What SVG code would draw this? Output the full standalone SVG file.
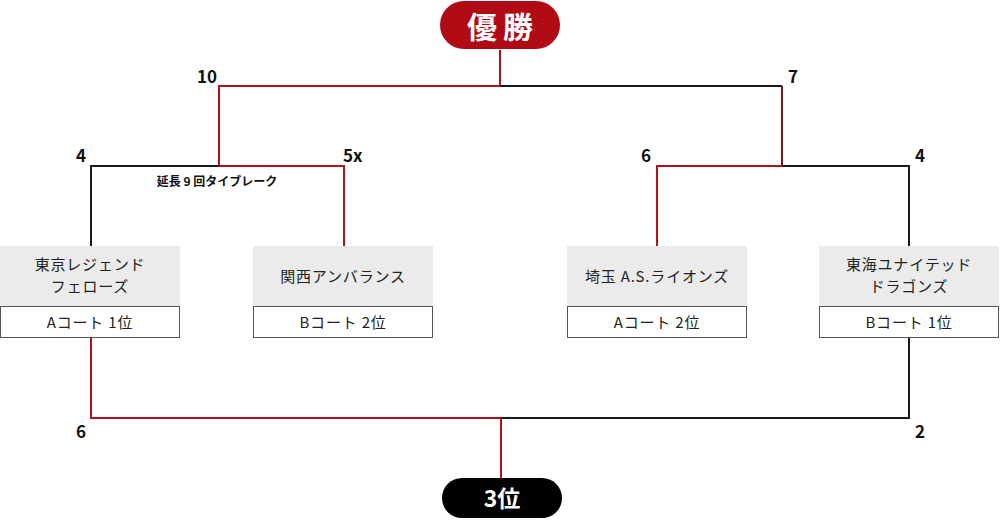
<svg xmlns="http://www.w3.org/2000/svg" width="1000" height="532" viewBox="0 0 1000 532">
<style>
.red{stroke:#b3101b;stroke-width:2;fill:none}
.blk{stroke:#1a1a1a;stroke-width:2;fill:none}
.mar{stroke:#7a1414;stroke-width:2;fill:none}
.score{font-family:"Noto Sans CJK JP","Liberation Sans",sans-serif;font-weight:700;font-size:17px;fill:#111}
.team{font-family:"Noto Sans CJK JP","Liberation Sans",sans-serif;font-size:15px;letter-spacing:0.8px;fill:#222;text-anchor:middle}
.gray{fill:#ebebeb}
.rank{fill:#fff;stroke:#555;stroke-width:1}
.note{font-family:"Noto Sans CJK JP","Liberation Sans",sans-serif;font-weight:700;font-size:12px;fill:#111;text-anchor:middle}
</style>
<g id="connectors">
<polyline class="red" points="500,50 500,86 219,86 219,166 344,166 344,246"/>
<polyline class="blk" points="500,86 782,86"/>
<polyline class="mar" points="782,86 782,166"/>
<polyline class="blk" points="219,166 91,166 91,246"/>
<polyline class="red" points="782,166 657,166 657,246"/>
<polyline class="blk" points="782,166 909,166 909,246"/>
<polyline class="red" points="91,338 91,418 501,418 501,478"/>
<polyline class="blk" points="501,418 909,418 909,338"/>
</g>
<g id="scores">
<text class="score" x="217" y="83" text-anchor="end">10</text>
<text class="score" x="788" y="83">7</text>
<text class="score" x="86" y="162" text-anchor="end">4</text>
<text class="score" x="343" y="162">5x</text>
<text class="score" x="651" y="162" text-anchor="end">6</text>
<text class="score" x="915" y="162">4</text>
<text class="score" x="86" y="438" text-anchor="end">6</text>
<text class="score" x="915" y="438">2</text>
<text class="note" x="217" y="186">延長 9 回タイブレーク</text>
</g>
<g id="champion">
<rect x="440" y="1" width="120" height="48" rx="24" fill="#b00a14"/>
<text x="503" y="38" text-anchor="middle" font-family="'Noto Sans CJK JP',sans-serif" font-weight="700" font-size="30" letter-spacing="6" fill="#fff">優勝</text>
</g>
<g id="third">
<rect x="442" y="478" width="120" height="40" rx="20" fill="#000"/>
<text x="502" y="507" text-anchor="middle" font-family="'Noto Sans CJK JP',sans-serif" font-weight="700" font-size="23" fill="#fff">3位</text>
</g>
<g id="team-tokyo">
<rect class="gray" x="0" y="246" width="180" height="60"/>
<text class="team" x="90" y="270">東京レジェンド</text>
<text class="team" x="90" y="292">フェローズ</text>
<rect class="rank" x="0.5" y="306.5" width="179" height="31"/>
<text class="team" x="90" y="328">Aコート 1位</text>
</g>
<g id="team-kansai">
<rect class="gray" x="253" y="246" width="180" height="60"/>
<text class="team" x="343" y="282">関西アンバランス</text>
<rect class="rank" x="253.5" y="306.5" width="179" height="31"/>
<text class="team" x="343" y="328">Bコート 2位</text>
</g>
<g id="team-saitama">
<rect class="gray" x="567" y="246" width="180" height="60"/>
<text class="team" x="657" y="282">埼玉 A.S.ライオンズ</text>
<rect class="rank" x="567.5" y="306.5" width="179" height="31"/>
<text class="team" x="657" y="328">Aコート 2位</text>
</g>
<g id="team-tokai">
<rect class="gray" x="819" y="246" width="180" height="60"/>
<text class="team" x="909" y="270">東海ユナイテッド</text>
<text class="team" x="909" y="292">ドラゴンズ</text>
<rect class="rank" x="819.5" y="306.5" width="179" height="31"/>
<text class="team" x="909" y="328">Bコート 1位</text>
</g>
</svg>
